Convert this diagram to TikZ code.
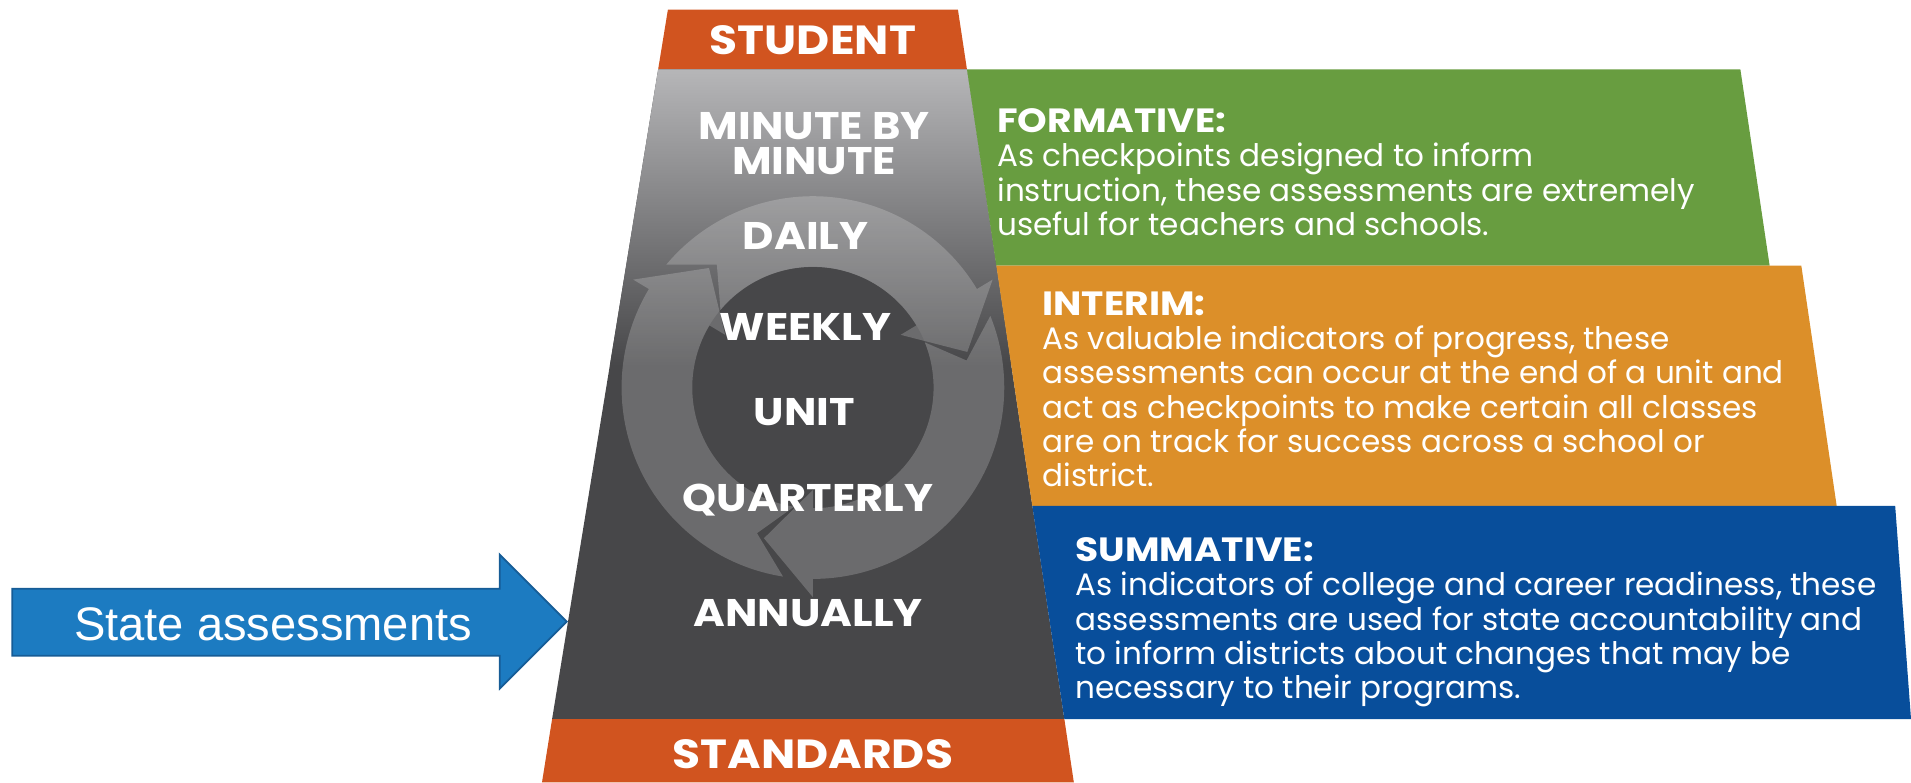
\documentclass[tikz,border=0pt]{standalone}
\usepackage{fontspec}
\setmainfont{Poppins}
\newfontfamily\widefont{Poppins}[FakeStretch=1.12]
\newfontfamily\statefont{Liberation Sans}
\usetikzlibrary{calc}

\definecolor{rust}{RGB}{209,84,31}
\definecolor{slatelight}{RGB}{182,182,184}
\definecolor{slatedark}{RGB}{71,71,73}
\definecolor{formgreen}{RGB}{104,157,64}
\definecolor{interimorange}{RGB}{220,143,41}
\definecolor{summblue}{RGB}{8,78,155}
\definecolor{stateblue}{RGB}{28,123,193}
\definecolor{stateedge}{RGB}{22,92,150}

% one of the three round arrows: #1 = tail angle, #2 = head angle
\newcommand{\cyclearrow}[2]{%
  \fill[ring] ({#1+9}:157) arc[start angle={#1+9}, end angle={#2+18}, radius=157]
    -- ({#2+18}:172) -- (#2:130) -- ({#2+18}:84) -- ({#2+18}:99)
    arc[start angle={#2+18}, end angle={#1+9}, radius=99] -- ({#1-3}:128) -- cycle;}
\newcommand{\blurbhead}[1]{{\widefont\bfseries\fontsize{15.7}{15.94}\selectfont #1}}

\begin{document}
\begin{tikzpicture}[x=0.02cm,y=-0.02cm,
    band/.style={font=\widefont\bfseries\fontsize{19}{19}\selectfont,text=white},
    level/.style={font=\widefont\bfseries\fontsize{18}{16.5}\selectfont,text=white,align=center},
    blurb/.style={font=\fontsize{14.5}{15.94}\selectfont,text=white,align=left,anchor=base west,inner sep=0pt},
    ring/.style={fill=white,fill opacity=0.2}]
  \useasboundingbox (0,0) rectangle (1568,642);

  % pyramid
  \fill[rust] (548,8) -- (786,8) -- (793.4,57) -- (540,57) -- cycle;
  \fill[slatedark] (540,57) -- (793.4,57) -- (873.3,590) -- (453,590) -- cycle;
  \shade[top color=slatelight,bottom color=slatedark] (540,57) -- (793.4,57) -- (829.8,300) -- (500.4,300) -- cycle;
  \fill[rust] (453,590) -- (873.3,590) -- (881.1,642) -- (444.7,642) -- cycle;

  % cycle
  \begin{scope}[shift={(667,318)},yscale=-1]
    \fill[slatedark] (0,0) circle[radius=99];
    \cyclearrow{252}{131}
    \cyclearrow{131}{13}
    \cyclearrow{13}{-108}
  \end{scope}

  % side boxes
  \fill[formgreen] (793.4,57) -- (1428,57) -- (1452,218) -- (817.5,218) -- cycle;
  \fill[interimorange] (817.5,218) -- (1478,218) -- (1507,415) -- (847,415) -- cycle;
  \fill[summblue] (847,415) -- (1555,415) -- (1568,590) -- (873.3,590) -- cycle;

  \node[band] (student) at (667,33) {STUDENT};
  \node[level] (minute) at (668,118) {MINUTE BY\\MINUTE};
  \node[level] (daily) at (661,194) {DAILY};
  \node[level] (weekly) at (661,268) {WEEKLY};
  \node[level] (unit) at (660,338) {UNIT};
  \node[level] (quarterly) at (663,410) {QUARTERLY};
  \node[level] (annually) at (663,503) {ANNUALLY};
  \node[band] (standards) at (667,619) {STANDARDS};

  \node[blurb] (formative) at (818,193) {\blurbhead{FORMATIVE:}\\As checkpoints designed to inform\\instruction, these assessments are extremely\\useful for teachers and schools.};
  \node[blurb] (interim) at (855,399) {\blurbhead{INTERIM:}\\As valuable indicators of progress, these\\assessments can occur at the end of a unit and\\act as checkpoints to make certain all classes\\are on track for success across a school or\\district.};
  \node[blurb] (summative) at (882,573) {\blurbhead{SUMMATIVE:}\\As indicators of college and career readiness, these\\assessments are used for state accountability and\\to inform districts about changes that may be\\necessary to their programs.};

  % state arrow
  \filldraw[fill=stateblue,draw=stateedge,line width=0.8pt] (10,483) -- (410,483) -- (410,455) -- (465,510) -- (410,565) -- (410,538) -- (10,538) -- cycle;
  \node[text=white,font=\statefont\fontsize{22}{22}\selectfont] (state) at (224,512) {State assessments};
\end{tikzpicture}
\end{document}
